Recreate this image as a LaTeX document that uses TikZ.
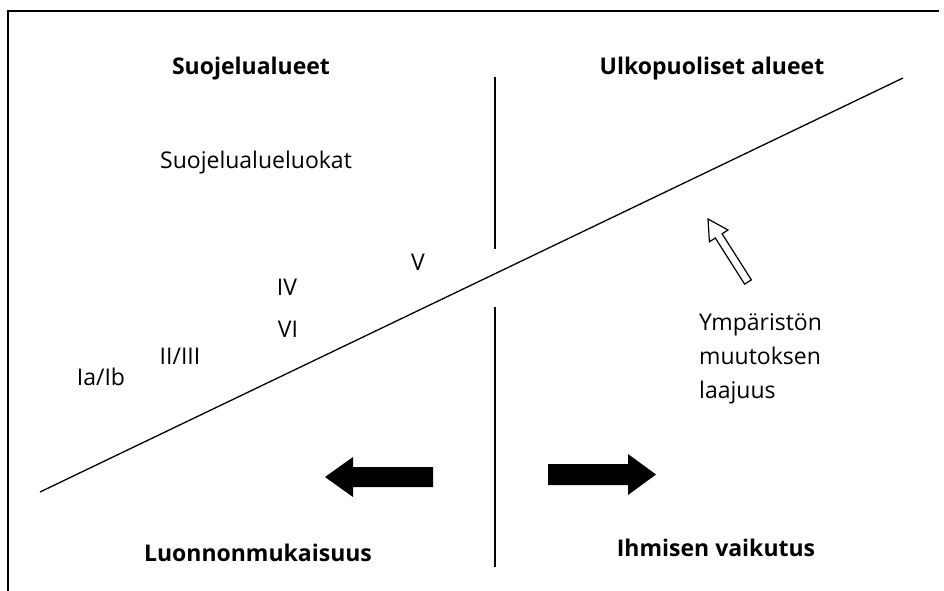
\documentclass[tikz,border=0pt]{standalone}
\usepackage{fontspec}
\setmainfont{Open Sans}
\begin{document}
\begin{tikzpicture}[x=1pt,y=-1pt,
  title/.style={font=\fontsize{23}{28}\selectfont\bfseries, inner sep=0pt},
  lbl/.style={font=\fontsize{23}{34}\selectfont, inner sep=0pt},
  frame/.style={line width=2pt},
  thin/.style={line width=1.3pt}]
\useasboundingbox (0,0) rectangle (944,591);
% frame (top and left)
\draw[frame] (8,591) -- (8,11) -- (939,11);
% divider
\coordinate (dT1) at (495,77);
\coordinate (dB1) at (495,249);
\coordinate (dT2) at (495,307);
\coordinate (dB2) at (495,567);
\draw[thin] (dT1) -- (dB1);
\draw[thin] (dT2) -- (dB2);
% diagonal
\coordinate (g1) at (40,492);
\coordinate (g2) at (903,78);
\draw[thin] (g1) -- (g2);
% titles
\node[title] (t1) at (251,69) {Suojelualueet};
\node[title] (t2) at (712,69) {Ulkopuoliset alueet};
\node[title] (t3) at (258,553) {Luonnonmukaisuus};
\node[title] (t4) at (716,548) {Ihmisen vaikutus};
% labels
\node[lbl] (cat) at (256,163) {Suojelualueluokat};
\node[lbl] (v) at (418,262) {V};
\node[lbl] (iv) at (287,287) {IV};
\node[lbl] (vi) at (288,329) {VI};
\node[lbl] (iiiii) at (180,356) {II/III};
\node[lbl] (iaib) at (101,377) {Ia/Ib};
\node[lbl, anchor=north west, align=left] (ymp) at (699,313) {Ympäristön\\muutoksen\\laajuus};
% black arrows
\fill (325,477) -- (353,457) -- (353,467) -- (433,467) -- (433,487) -- (353,487) -- (353,497) -- cycle;
\fill (656,474.5) -- (628,454) -- (628,464) -- (548,464) -- (548,485) -- (628,485) -- (628,495) -- cycle;
% hollow arrow
\draw[line width=1.2pt, line join=miter, fill=white]
  (751.4,279.9) -- (722.1,233.8) -- (728.0,230.0) -- (708,219) -- (709.4,241.8) -- (715.3,238.0) -- (744.6,284.1) -- cycle;
\end{tikzpicture}
\end{document}
